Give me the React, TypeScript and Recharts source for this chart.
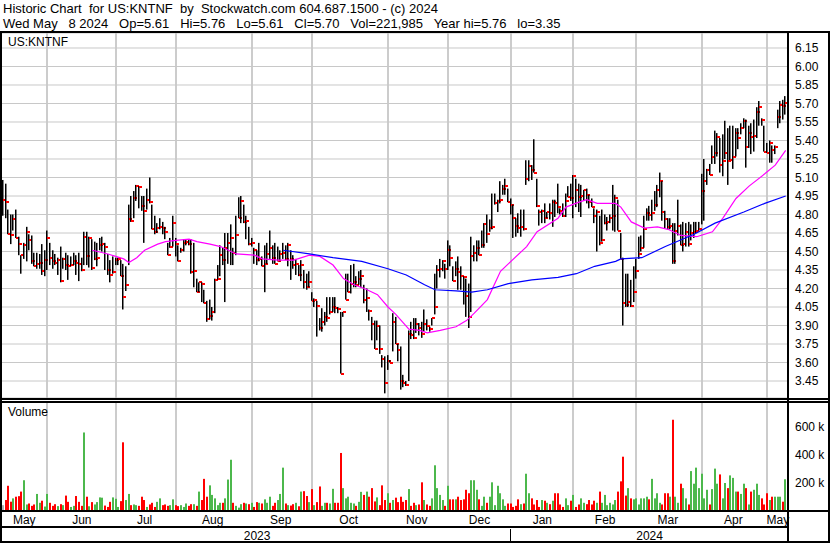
import React from 'react';
import { ComposedChart, Bar, Line, XAxis, YAxis, CartesianGrid } from 'recharts';

const FONT = '"Liberation Sans", Arial, sans-serif';
const GRID = '#c8c8c8';

// daily bars (US$)
const highs = [
  5.08, 5.05, 4.84, 4.80, 4.80, 4.84, 4.62, 4.47, 4.57, 4.70,
  4.64, 4.63, 4.49, 4.49, 4.48, 4.56, 4.51, 4.67, 4.57, 4.51,
  4.48, 4.45, 4.54, 4.45, 4.49, 4.47, 4.46, 4.49, 4.47, 4.49,
  4.45, 4.66, 4.66, 4.62, 4.60, 4.58, 4.57, 4.61, 4.62, 4.57,
  4.48, 4.43, 4.46, 4.45, 4.45, 4.43, 4.40, 4.38, 4.88, 4.95,
  4.99, 5.04, 5.03, 4.95, 4.95, 5.01, 5.10, 4.88, 4.79, 4.73,
  4.77, 4.74, 4.70, 4.57, 4.61, 4.79, 4.61, 4.55, 4.53, 4.60,
  4.60, 4.60, 4.60, 4.57, 4.28, 4.25, 4.25, 4.19, 4.10, 4.11,
  4.05, 4.28, 4.39, 4.55, 4.53, 4.65, 4.65, 4.72, 4.53, 4.79,
  4.94, 4.95, 4.88, 4.79, 4.70, 4.61, 4.53, 4.51, 4.57, 4.46,
  4.55, 4.57, 4.67, 4.55, 4.57, 4.54, 4.51, 4.57, 4.55, 4.57,
  4.51, 4.47, 4.44, 4.39, 4.43, 4.35, 4.32, 4.34, 4.17, 4.12,
  4.10, 3.96, 4.04, 4.01, 4.13, 4.13, 4.13, 4.13, 4.05, 4.01,
  4.01, 4.32, 4.32, 4.39, 4.40, 4.30, 4.34, 4.35, 4.23, 4.20,
  4.03, 3.97, 3.94, 3.94, 3.90, 3.66, 3.65, 3.66, 3.62, 4.00,
  3.97, 3.75, 3.73, 3.50, 3.45, 3.86, 3.93, 3.96, 3.96, 3.92,
  3.93, 4.03, 3.95, 3.89, 3.96, 4.32, 4.39, 4.44, 4.43, 4.40,
  4.59, 4.55, 4.38, 4.42, 4.46, 4.38, 4.30, 4.28, 4.24, 4.62,
  4.55, 4.59, 4.59, 4.67, 4.73, 4.80, 4.76, 4.97, 4.97, 4.92,
  5.07, 5.04, 5.09, 5.01, 4.93, 4.88, 4.77, 4.81, 4.84, 4.84,
  5.24, 5.24, 5.20, 5.41, 5.09, 4.84, 4.84, 4.89, 4.82, 4.89,
  4.92, 4.92, 5.05, 4.85, 4.89, 4.97, 5.03, 5.05, 5.12, 5.09,
  5.05, 5.04, 5.00, 5.01, 4.96, 4.93, 4.85, 4.84, 4.79, 4.84,
  4.80, 4.78, 4.80, 5.04, 4.96, 4.92, 4.65, 4.45, 4.32, 4.32,
  4.27, 4.38, 4.44, 4.62, 4.63, 4.79, 4.85, 4.87, 4.92, 4.99,
  5.04, 5.14, 5.07, 4.83, 4.77, 4.77, 4.73, 4.73, 4.92, 4.72,
  4.74, 4.73, 4.74, 4.72, 4.74, 4.74, 4.74, 5.13, 5.25, 5.17,
  5.21, 5.36, 5.48, 5.46, 5.42, 5.45, 5.56, 5.50, 5.52, 5.52,
  5.50, 5.50, 5.54, 5.58, 5.57, 5.52, 5.54, 5.57, 5.67, 5.72,
  5.58, 5.52, 5.38, 5.40, 5.36, 5.36, 5.65, 5.72, 5.73, 5.76,
];

const lows = [
  4.79, 4.77, 4.64, 4.56, 4.67, 4.61, 4.47, 4.32, 4.44, 4.42,
  4.51, 4.40, 4.38, 4.36, 4.36, 4.31, 4.30, 4.35, 4.39, 4.36,
  4.39, 4.31, 4.25, 4.36, 4.35, 4.27, 4.38, 4.39, 4.31, 4.26,
  4.34, 4.39, 4.39, 4.37, 4.35, 4.43, 4.38, 4.51, 4.50, 4.35,
  4.31, 4.25, 4.32, 4.39, 4.39, 4.30, 4.03, 4.18, 4.39, 4.74,
  4.77, 4.91, 4.85, 4.83, 4.57, 4.84, 4.89, 4.68, 4.64, 4.65,
  4.68, 4.64, 4.60, 4.47, 4.53, 4.54, 4.46, 4.42, 4.49, 4.50,
  4.55, 4.55, 4.32, 4.21, 4.17, 4.17, 4.09, 4.08, 3.93, 3.95,
  3.94, 4.00, 4.27, 4.30, 4.39, 4.09, 4.40, 4.39, 4.39, 4.47,
  4.77, 4.73, 4.73, 4.60, 4.55, 4.54, 4.40, 4.39, 4.42, 4.38,
  4.17, 4.40, 4.44, 4.40, 4.40, 4.42, 4.42, 4.44, 4.43, 4.38,
  4.27, 4.36, 4.31, 4.30, 4.26, 4.20, 4.19, 4.21, 4.10, 4.05,
  3.81, 3.86, 3.85, 3.90, 3.93, 3.99, 4.01, 4.00, 4.00, 3.51,
  3.97, 4.11, 4.17, 4.16, 4.21, 4.21, 4.23, 4.21, 4.08, 4.01,
  3.94, 3.78, 3.71, 3.78, 3.67, 3.56, 3.35, 3.54, 3.60, 3.69,
  3.75, 3.61, 3.38, 3.40, 3.41, 3.45, 3.79, 3.79, 3.84, 3.82,
  3.80, 3.85, 3.86, 3.85, 3.90, 3.99, 4.20, 4.29, 4.34, 4.28,
  4.35, 4.38, 4.26, 4.30, 4.19, 4.19, 4.07, 3.97, 3.88, 4.01,
  4.42, 4.42, 4.47, 4.53, 4.53, 4.57, 4.66, 4.68, 4.88, 4.82,
  4.89, 4.96, 4.96, 4.90, 4.80, 4.61, 4.62, 4.65, 4.62, 4.67,
  5.04, 5.07, 5.08, 5.14, 4.86, 4.71, 4.73, 4.73, 4.77, 4.76,
  4.70, 4.78, 4.81, 4.80, 4.78, 4.78, 4.94, 4.91, 4.77, 4.86,
  4.82, 4.78, 4.91, 4.89, 4.85, 4.86, 4.73, 4.50, 4.55, 4.58,
  4.72, 4.67, 4.73, 4.67, 4.66, 4.67, 4.44, 3.90, 4.05, 4.05,
  4.05, 4.09, 4.28, 4.44, 4.50, 4.53, 4.75, 4.75, 4.75, 4.83,
  4.86, 4.94, 4.75, 4.69, 4.68, 4.68, 4.40, 4.40, 4.63, 4.55,
  4.50, 4.54, 4.54, 4.59, 4.61, 4.65, 4.67, 4.72, 4.75, 5.04,
  5.12, 5.21, 5.21, 5.27, 5.14, 5.11, 5.25, 5.04, 5.24, 5.17,
  5.27, 5.33, 5.45, 5.50, 5.18, 5.34, 5.29, 5.31, 5.42, 5.52,
  5.52, 5.31, 5.30, 5.22, 5.22, 5.29, 5.50, 5.54, 5.57, 5.61,
];

const closes = [
  4.92, 4.90, 4.64, 4.63, 4.76, 4.61, 4.56, 4.47, 4.55, 4.66,
  4.59, 4.42, 4.38, 4.40, 4.41, 4.34, 4.43, 4.61, 4.45, 4.42,
  4.41, 4.43, 4.26, 4.44, 4.39, 4.38, 4.39, 4.42, 4.41, 4.40,
  4.35, 4.62, 4.46, 4.61, 4.37, 4.44, 4.45, 4.55, 4.56, 4.54,
  4.35, 4.31, 4.33, 4.43, 4.44, 4.30, 4.13, 4.23, 4.76, 4.75,
  4.93, 5.03, 5.02, 4.87, 4.83, 4.92, 4.90, 4.68, 4.66, 4.69,
  4.70, 4.69, 4.66, 4.47, 4.54, 4.73, 4.56, 4.42, 4.51, 4.57,
  4.58, 4.56, 4.33, 4.34, 4.17, 4.25, 4.24, 4.08, 3.95, 3.98,
  4.01, 4.27, 4.28, 4.47, 4.43, 4.53, 4.57, 4.61, 4.49, 4.63,
  4.77, 4.91, 4.74, 4.75, 4.56, 4.57, 4.51, 4.43, 4.44, 4.38,
  4.40, 4.48, 4.53, 4.45, 4.40, 4.42, 4.48, 4.49, 4.44, 4.55,
  4.44, 4.39, 4.40, 4.31, 4.39, 4.25, 4.21, 4.25, 4.10, 4.11,
  4.06, 3.88, 3.93, 3.97, 3.96, 4.01, 4.05, 4.04, 4.03, 3.51,
  4.01, 4.11, 4.17, 4.24, 4.25, 4.23, 4.28, 4.30, 4.11, 4.12,
  4.02, 3.91, 3.71, 3.90, 3.71, 3.63, 3.43, 3.61, 3.60, 3.93,
  3.75, 3.70, 3.45, 3.43, 3.42, 3.83, 3.82, 3.80, 3.91, 3.88,
  3.83, 3.91, 3.90, 3.87, 3.96, 4.05, 4.35, 4.36, 4.42, 4.36,
  4.51, 4.45, 4.26, 4.36, 4.33, 4.30, 4.29, 4.14, 3.97, 4.46,
  4.49, 4.53, 4.47, 4.55, 4.72, 4.64, 4.69, 4.70, 4.89, 4.91,
  4.92, 5.01, 5.03, 4.90, 4.88, 4.77, 4.71, 4.69, 4.70, 4.68,
  5.09, 5.19, 5.16, 5.14, 4.87, 4.82, 4.83, 4.77, 4.82, 4.81,
  4.90, 4.89, 4.86, 4.83, 4.79, 4.91, 4.94, 4.93, 5.11, 5.00,
  4.94, 4.95, 5.00, 4.96, 4.90, 4.86, 4.79, 4.82, 4.57, 4.59,
  4.73, 4.74, 4.77, 4.79, 4.93, 4.67, 4.44, 4.08, 4.07, 4.09,
  4.06, 4.17, 4.34, 4.48, 4.53, 4.68, 4.81, 4.80, 4.81, 4.88,
  5.00, 5.07, 4.82, 4.76, 4.70, 4.71, 4.42, 4.67, 4.71, 4.55,
  4.56, 4.66, 4.56, 4.65, 4.66, 4.67, 4.68, 4.99, 5.07, 5.16,
  5.12, 5.27, 5.30, 5.43, 5.20, 5.23, 5.30, 5.23, 5.24, 5.27,
  5.46, 5.42, 5.50, 5.56, 5.35, 5.46, 5.43, 5.44, 5.63, 5.67,
  5.57, 5.31, 5.30, 5.38, 5.32, 5.35, 5.59, 5.69, 5.68, 5.70,
];

// shares traded, thousands
const volumesK = [
  35, 72, 175, 60, 84, 96, 100, 133, 215, 40,
  47, 30, 40, 116, 52, 67, 25, 116, 52, 30,
  42, 28, 42, 35, 104, 59, 22, 30, 101, 59,
  30, 560, 96, 27, 57, 40, 57, 91, 89, 32,
  22, 59, 91, 81, 22, 64, 489, 72, 116, 35,
  40, 35, 30, 96, 72, 22, 40, 52, 22, 59,
  84, 35, 40, 30, 35, 77, 35, 28, 35, 22,
  47, 30, 42, 42, 30, 133, 72, 225, 96, 178,
  109, 84, 35, 52, 52, 84, 220, 363, 52, 30,
  17, 42, 52, 47, 42, 52, 22, 57, 52, 47,
  77, 52, 96, 30, 52, 72, 116, 306, 47, 35,
  32, 42, 52, 27, 133, 136, 101, 57, 151, 35,
  57, 170, 30, 52, 52, 47, 153, 52, 52, 412,
  158, 84, 96, 52, 47, 30, 59, 131, 109, 133,
  96, 158, 62, 91, 35, 178, 72, 121, 52, 72,
  89, 57, 96, 59, 72, 151, 30, 52, 35, 40,
  200, 72, 40, 30, 84, 323, 158, 109, 72, 30,
  175, 77, 77, 77, 96, 72, 77, 146, 121, 215,
  215, 146, 77, 30, 96, 52, 96, 200, 35, 175,
  121, 77, 30, 47, 47, 22, 30, 77, 42, 47,
  262, 121, 84, 40, 72, 22, 72, 67, 52, 42,
  67, 121, 121, 40, 22, 84, 35, 67, 109, 22,
  40, 84, 52, 42, 72, 40, 67, 52, 133, 52,
  109, 35, 52, 40, 72, 133, 207, 385, 104, 158,
  84, 77, 84, 40, 84, 84, 96, 77, 225, 84,
  121, 52, 40, 121, 121, 96, 652, 96, 52, 190,
  158, 84, 40, 281, 190, 306, 158, 262, 84, 146,
  40, 151, 299, 190, 257, 84, 195, 158, 250, 232,
  133, 133, 116, 190, 158, 40, 133, 146, 190, 109,
  84, 40, 121, 72, 96, 96, 96, 96, 60, 222,
];

// moving averages, [bar index, value]
const fastAvg: [number, number][] = [
  [34, 4.51], [40, 4.48], [46, 4.44], [48, 4.41], [51, 4.45], [54, 4.51], [59, 4.56], [62, 4.58],
  [66, 4.59], [71, 4.60], [74, 4.58], [79, 4.56], [83, 4.54], [89, 4.48], [96, 4.47], [99, 4.44],
  [105, 4.43], [111, 4.43], [117, 4.47], [121, 4.46], [126, 4.39], [130, 4.28], [134, 4.23],
  [138, 4.20], [143, 4.15], [147, 4.05], [150, 3.99], [155, 3.87], [159, 3.86], [162, 3.84],
  [167, 3.86], [173, 3.89], [177, 3.94], [180, 4.00], [185, 4.11], [190, 4.34], [194, 4.42],
  [200, 4.54], [204, 4.66], [212, 4.77], [215, 4.86], [220, 4.90], [223, 4.92], [227, 4.89],
  [234, 4.89], [236, 4.86], [240, 4.74], [245, 4.69], [250, 4.70], [254, 4.68], [259, 4.63],
  [265, 4.62], [271, 4.66], [275, 4.77], [280, 4.93], [285, 5.03], [291, 5.13], [295, 5.20],
  [299, 5.32],
];
const slowAvg: [number, number][] = [
  [107, 4.51], [117, 4.48], [126, 4.45], [137, 4.42], [147, 4.36], [154, 4.31], [161, 4.23],
  [165, 4.19], [173, 4.18], [179, 4.17], [185, 4.19], [193, 4.24], [202, 4.27], [212, 4.29],
  [219, 4.32], [226, 4.38], [234, 4.42], [236, 4.44], [244, 4.45], [253, 4.54], [264, 4.64],
  [272, 4.73], [283, 4.82], [291, 4.89], [299, 4.95],
];

const monthNames = ['May', 'Jun', 'Jul', 'Aug', 'Sep', 'Oct', 'Nov', 'Dec', 'Jan', 'Feb', 'Mar', 'Apr', 'May'];
const monthStarts = [0, 17, 43, 66, 95, 118, 147, 170, 194, 218, 242, 267, 292];
const yearNames = ['2023', '2024'];
const yearStarts = [0, 194];
const priceTicks = [3.45, 3.6, 3.75, 3.9, 4.05, 4.2, 4.35, 4.5, 4.65, 4.8, 4.95, 5.1, 5.25, 5.4, 5.55, 5.7, 5.85, 6.0, 6.15];
const volumeTicks = [200000, 400000, 600000];

const N = closes.length;
const PLOT_W = 785;
const AXIS_W = 42;
const PLOT_LEFT = 2;
const BAND = PLOT_W / N;

const data = closes.map((c, i) => ({
  i,
  range: [lows[i], highs[i]],
  high: highs[i],
  low: lows[i],
  close: c,
  vol: volumesK[i] * 1000,
  dir: i === 0 ? 0 : Math.sign(Math.round((c - closes[i - 1]) * 100)),
  fast: null as number | null,
  slow: null as number | null,
}));
fastAvg.forEach(([i, v]) => { data[i].fast = v; });
slowAvg.forEach(([i, v]) => { data[i].slow = v; });

const mid = (starts: number[], k: number) => Math.floor((starts[k] + (starts[k + 1] ?? N)) / 2);
const monthMids = monthStarts.map((_, k) => mid(monthStarts, k));
const yearMids = yearStarts.map((_, k) => mid(yearStarts, k));

// month grid sits at the start of each month's band on the category axis
const monthGridX = monthStarts.slice(1).map((s) => PLOT_LEFT + Math.round(s * BAND));

const OhlcBar = (props: any) => {
  const { x, y, width, height, payload } = props;
  const top = Math.min(y, y + height);
  const h = Math.abs(height);
  const cx = Math.round(x + width / 2);
  const { high, low, close } = payload;
  const cy = high === low ? top : top + ((high - close) / (high - low)) * h;
  return (
    <g>
      <rect x={cx - 1} y={top} width={1.5} height={Math.max(h, 1)} fill="#000" />
      <rect x={cx} y={Math.round(cy) - 1} width={3} height={2} fill="#ff0000" />
    </g>
  );
};

const VolBar = (props: any) => {
  const { x, y, width, height, payload } = props;
  const cx = Math.round(x + width / 2);
  const fill = payload.dir > 0 ? '#4cb84c' : payload.dir < 0 ? '#ff0000' : '#b0b0b0';
  return <rect x={cx - 1} y={y} width={2} height={height} fill={fill} />;
};

const MonthTick = ({ x, y, payload }: any) => {
  const k = monthMids.indexOf(payload.value);
  return (
    <text x={x} y={y + 9} textAnchor="middle" dominantBaseline="middle" fontSize={12} fontFamily={FONT} fill="#000">
      {monthNames[k]}
    </text>
  );
};

const YearTick = ({ x, y, payload }: any) => {
  if (payload.value === yearStarts[1]) {
    const bx = Math.round(x - BAND / 2) + 0.5;
    return <line x1={bx} x2={bx} y1={y} y2={y + 16} stroke="#000" strokeWidth={1} />;
  }
  const k = yearMids.indexOf(payload.value);
  return (
    <text x={x} y={y + 8} textAnchor="middle" dominantBaseline="middle" fontSize={12} fontFamily={FONT} fill="#000">
      {yearNames[k]}
    </text>
  );
};

const axisText = { fill: '#000', fontSize: 12, fontFamily: FONT };

const box = (key: string, left: number, top: number, width: number, height: number, bg = '#000', z = 3) => (
  <div
    key={key}
    style={{ position: 'absolute', left, top, width, height, background: bg, zIndex: z, pointerEvents: 'none' }}
  />
);

export default function App() {
  return (
    <div style={{ position: 'relative', width: 830, height: 543, background: '#fff', overflow: 'hidden', fontFamily: FONT, fontSize: 12, color: '#000' }}>
      <style>{'body{margin:0}'}</style>
      <div style={{ position: 'absolute', left: 3, top: 1, lineHeight: '15px', fontSize: 13, whiteSpace: 'pre' }}>
        {'Historic Chart  for US:KNTNF  by  Stockwatch.com 604.687.1500 - (c) 2024'}
      </div>
      <div style={{ position: 'absolute', left: 3, top: 16, lineHeight: '15px', fontSize: 13, whiteSpace: 'pre' }}>
        {'Wed May   8 2024   Op=5.61   Hi=5.76   Lo=5.61   Cl=5.70   Vol=221,985   Year hi=5.76   lo=3.35'}
      </div>

      {/* month grid lines, behind the marks */}
      {monthGridX.map((gx) => box(`gp${gx}`, gx, 33, 2, 365, '#cccccc', 0))}
      {monthGridX.map((gx) => box(`gv${gx}`, gx, 403, 2, 107, '#cccccc', 0))}

      <div style={{ position: 'absolute', left: PLOT_LEFT, top: 33, zIndex: 1 }}>
        <ComposedChart width={PLOT_W + AXIS_W} height={365} data={data} margin={{ top: 0, right: 0, bottom: 0, left: 0 }} style={{ background: 'transparent' }}>
          <CartesianGrid stroke={GRID} vertical={false} />
          <XAxis dataKey="i" hide />
          <YAxis
            orientation="right"
            domain={[3.3122, 6.2716]}
            ticks={priceTicks}
            interval={0}
            tickFormatter={(v: number) => v.toFixed(2)}
            axisLine={false}
            tickLine={false}
            tickSize={0}
            tickMargin={8}
            width={AXIS_W}
            tick={axisText}
            allowDataOverflow
          />
          <Bar dataKey="range" barSize={2} shape={OhlcBar} isAnimationActive={false} />
          <Line dataKey="fast" stroke="#ff00ff" strokeWidth={1.2} dot={false} connectNulls isAnimationActive={false} />
          <Line dataKey="slow" stroke="#0000ff" strokeWidth={1.2} dot={false} connectNulls isAnimationActive={false} />
        </ComposedChart>
      </div>

      <div style={{ position: 'absolute', left: PLOT_LEFT, top: 403, zIndex: 1 }}>
        <ComposedChart width={PLOT_W + AXIS_W} height={139} data={data} margin={{ top: 0, right: 0, bottom: 0, left: 0 }} style={{ background: 'transparent' }}>
          <XAxis xAxisId="m" dataKey="i" ticks={monthMids} interval={0} tick={<MonthTick />} height={17} axisLine={false} tickLine={false} tickSize={0} />
          <XAxis xAxisId="y" dataKey="i" ticks={[...yearMids, yearStarts[1]]} interval={0} tick={<YearTick />} height={15} axisLine={false} tickLine={false} tickSize={0} />
          <YAxis
            orientation="right"
            domain={[0, 773000]}
            ticks={volumeTicks}
            interval={0}
            tickFormatter={(v: number) => `${v / 1000} k`}
            axisLine={false}
            tickLine={false}
            tickSize={0}
            tickMargin={8}
            width={AXIS_W}
            tick={axisText}
          />
          <Bar xAxisId="m" dataKey="vol" barSize={2} shape={VolBar} isAnimationActive={false} />
        </ComposedChart>
      </div>

      <div style={{ position: 'absolute', left: 8, top: 35, lineHeight: '15px', zIndex: 3 }}>US:KNTNF</div>
      <div style={{ position: 'absolute', left: 8, top: 405, lineHeight: '15px', zIndex: 3 }}>Volume</div>

      {box('f1', 0, 31, 830, 2)}
      {box('f2', 0, 31, 2, 512)}
      {box('f3', 787, 31, 2, 512)}
      {box('f4', 828, 31, 2, 512)}
      {box('f5', 0, 398, 830, 2)}
      {box('f6', 0, 401, 830, 2)}
      {box('f7', 0, 510, 830, 2)}
      {box('f8', 0, 526, 789, 2)}
      {box('f9', 0, 541, 830, 2)}
    </div>
  );
}
